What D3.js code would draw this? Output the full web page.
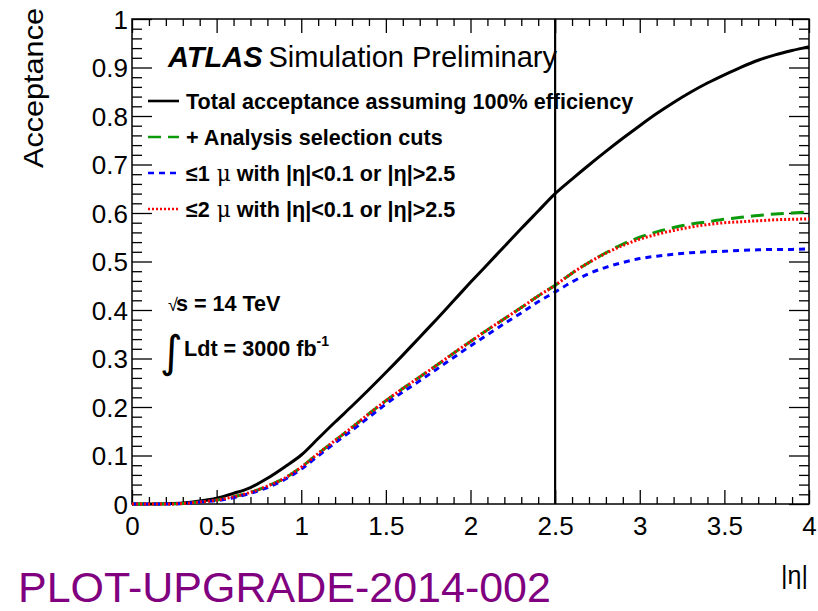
<!DOCTYPE html>
<html>
<head>
<meta charset="utf-8">
<script src="https://cdn.jsdelivr.net/npm/d3@7"></script>
<style>
  html, body { margin: 0; padding: 0; background: #fff; }
  svg { display: block; font-family: "Liberation Sans", Arial, Helvetica, sans-serif; }
</style>
</head>
<body>
<svg id="chart" width="818" height="611"></svg>
<script>
// |eta| sampling points (cut on the muon pseudorapidity)
const eta = d3.range(0, 41).map(i => +(i * 0.1).toFixed(1));

// Total acceptance assuming 100% efficiency
const totalAcc = [0, 0, 0.0005, 0.002, 0.006, 0.012, 0.022, 0.034, 0.053, 0.076,
  0.101, 0.135, 0.169, 0.202, 0.236, 0.271, 0.307, 0.344, 0.381, 0.419,
  0.457, 0.494, 0.531, 0.568, 0.604, 0.640, 0.670, 0.699, 0.727, 0.754,
  0.780, 0.805, 0.828, 0.849, 0.868, 0.885, 0.901, 0.915, 0.926, 0.935, 0.943];

// + Analysis selection cuts
const selCuts = [0, 0, 0, 0.001, 0.004, 0.008, 0.015, 0.024, 0.037, 0.053,
  0.076, 0.104, 0.131, 0.158, 0.186, 0.213, 0.238, 0.262, 0.286, 0.311,
  0.335, 0.359, 0.382, 0.405, 0.429, 0.451, 0.476, 0.498, 0.518, 0.536,
  0.550, 0.561, 0.570, 0.577, 0.582, 0.587, 0.591, 0.595, 0.598, 0.600, 0.602];

// <=1 mu with |eta|<0.1 or |eta|>2.5
const oneMu = [0, 0, 0, 0.001, 0.004, 0.007, 0.013, 0.022, 0.034, 0.050,
  0.072, 0.099, 0.126, 0.152, 0.179, 0.206, 0.231, 0.254, 0.278, 0.302,
  0.326, 0.349, 0.372, 0.394, 0.417, 0.437, 0.458, 0.475, 0.488, 0.498,
  0.506, 0.511, 0.515, 0.518, 0.520, 0.521, 0.523, 0.524, 0.525, 0.525, 0.526];

// <=2 mu with |eta|<0.1 or |eta|>2.5
const twoMu = [0, 0, 0, 0.001, 0.004, 0.008, 0.015, 0.024, 0.037, 0.053,
  0.076, 0.104, 0.131, 0.158, 0.186, 0.213, 0.238, 0.262, 0.286, 0.311,
  0.335, 0.359, 0.382, 0.405, 0.429, 0.451, 0.476, 0.498, 0.517, 0.533,
  0.546, 0.556, 0.564, 0.571, 0.576, 0.580, 0.582, 0.584, 0.586, 0.587, 0.588];

const xTickLabels = ["0", "0.5", "1", "1.5", "2", "2.5", "3", "3.5", "4"];
const yTickLabels = ["0", "0.1", "0.2", "0.3", "0.4", "0.5", "0.6", "0.7", "0.8", "0.9", "1"];
const etaCut = 2.5;

const series = [
  { name: "total", values: totalAcc, color: "#000000", dash: null, width: 3 },
  { name: "sel", values: selCuts, color: "#0b9a0b", dash: "13,7", width: 3 },
  { name: "one", values: oneMu, color: "#0000ff", dash: "6,5", width: 3 },
  { name: "two", values: twoMu, color: "#ff0000", dash: "2,2", width: 3 }
];

const svg = d3.select("#chart");
const frameL = 132, frameR = 809, frameT = 19, frameB = 504;

const x = d3.scaleLinear().domain([0, 4]).range([frameL, frameR]);
const y = d3.scaleLinear().domain([0, 1]).range([frameB, frameT]);

// Frame ticks (ROOT style: major + minor on all four sides, pointing inward)
const xMajor = xTickLabels.map(Number);
const xMinor = d3.range(0, 41).map(i => i * 0.1).filter(v => Math.abs(v * 2 - Math.round(v * 2)) > 1e-6);
const yMajor = yTickLabels.map(Number);
const yMinor = d3.range(0, 51).map(i => i * 0.02).filter(v => Math.abs(v * 10 - Math.round(v * 10)) > 1e-6);

const xMajLen = 14, xMinLen = 7, yMajLen = 20, yMinLen = 10;

const axBottom = svg.append("g").attr("transform", `translate(0,${frameB})`);
axBottom.call(d3.axisBottom(x).tickValues(xMajor).tickSizeInner(-xMajLen).tickSizeOuter(0).tickPadding(8)
  .tickFormat((d, i) => xTickLabels[i]));
axBottom.append("g").call(d3.axisBottom(x).tickValues(xMinor).tickSizeInner(-xMinLen).tickSizeOuter(0).tickFormat(""));

const axTop = svg.append("g").attr("transform", `translate(0,${frameT})`);
axTop.call(d3.axisTop(x).tickValues(xMajor).tickSizeInner(-xMajLen).tickSizeOuter(0).tickFormat(""));
axTop.append("g").call(d3.axisTop(x).tickValues(xMinor).tickSizeInner(-xMinLen).tickSizeOuter(0).tickFormat(""));

const axLeft = svg.append("g").attr("transform", `translate(${frameL},0)`);
axLeft.call(d3.axisLeft(y).tickValues(yMajor).tickSizeInner(-yMajLen).tickSizeOuter(0).tickPadding(4)
  .tickFormat((d, i) => yTickLabels[i]));
axLeft.append("g").call(d3.axisLeft(y).tickValues(yMinor).tickSizeInner(-yMinLen).tickSizeOuter(0).tickFormat(""));

const axRight = svg.append("g").attr("transform", `translate(${frameR},0)`);
axRight.call(d3.axisRight(y).tickValues(yMajor).tickSizeInner(-yMajLen).tickSizeOuter(0).tickFormat(""));
axRight.append("g").call(d3.axisRight(y).tickValues(yMinor).tickSizeInner(-yMinLen).tickSizeOuter(0).tickFormat(""));

svg.selectAll(".domain").remove();
svg.selectAll(".tick line").attr("stroke", "#000").attr("stroke-width", 1.3);
svg.selectAll(".tick text").attr("fill", "#000").attr("font-size", 26)
  .attr("font-family", "Liberation Sans, Arial, sans-serif");
axBottom.selectAll(".tick text").attr("dy", "0.9em");
axLeft.selectAll(".tick text").attr("dy", "0.36em");

// Frame box
svg.append("rect").attr("x", frameL).attr("y", frameT).attr("width", frameR - frameL).attr("height", frameB - frameT)
  .attr("fill", "none").attr("stroke", "#000").attr("stroke-width", 1.5);

// Curves
const line = d3.line().x((d, i) => x(eta[i])).y(d => y(d)).curve(d3.curveMonotoneX);
const curves = svg.append("g");
series.forEach(s => {
  curves.append("path").datum(s.values)
    .attr("d", line)
    .attr("fill", "none")
    .attr("stroke", s.color)
    .attr("stroke-width", s.width)
    .attr("stroke-dasharray", s.dash)
    .attr("stroke-linejoin", "round");
});

// Vertical marker at the |eta| cut
svg.append("line").attr("x1", x(etaCut)).attr("x2", x(etaCut)).attr("y1", y(0)).attr("y2", y(1))
  .attr("stroke", "#000").attr("stroke-width", 2.2);

// Axis titles
svg.append("text").attr("transform", `translate(43,8) rotate(-90)`)
  .attr("text-anchor", "end").attr("font-size", 28).attr("fill", "#000")
  .attr("textLength", 160).attr("lengthAdjust", "spacingAndGlyphs").text("Acceptance");
svg.append("text").attr("x", 808).attr("y", 584).attr("text-anchor", "end")
  .attr("font-size", 25).attr("fill", "#000").text("|η|");

// ATLAS label
const atlas = svg.append("text").attr("x", 168).attr("y", 67).attr("font-size", 29).attr("fill", "#000");
atlas.append("tspan").attr("font-weight", "bold").attr("font-style", "italic").text("ATLAS");
atlas.append("tspan").attr("dx", 6).text("Simulation Preliminary");

// Legend
const legendRows = [
  { s: series[0], label: "Total acceptance assuming 100% efficiency" },
  { s: series[1], label: "+ Analysis selection cuts" },
  { s: series[2], label: ["≤1", " μ", " with |η|<0.1 or |η|>2.5"] },
  { s: series[3], label: ["≤2", " μ", " with |η|<0.1 or |η|>2.5"] }
];
const legendY = [101, 137, 173, 209];
legendRows.forEach((r, i) => {
  const yy = legendY[i];
  svg.append("line").attr("x1", 148).attr("x2", 179).attr("y1", yy).attr("y2", yy)
    .attr("stroke", r.s.color).attr("stroke-width", 2.6)
    .attr("stroke-dasharray", r.s.dash);
  const t = svg.append("text").attr("x", 186).attr("y", yy + 7.5).attr("font-size", 21.6)
    .attr("font-weight", "bold").attr("fill", "#000");
  if (Array.isArray(r.label)) {
    t.append("tspan").text(r.label[0]);
    t.append("tspan").attr("font-weight", "normal").attr("font-family", "DejaVu Serif, serif").text(r.label[1]);
    t.append("tspan").text(r.label[2]);
  } else {
    t.text(r.label);
  }
});

// Energy and integrated luminosity
const energy = svg.append("text").attr("x", 168).attr("y", 311).attr("font-size", 21.6)
  .attr("font-weight", "bold").attr("fill", "#000");
energy.append("tspan").attr("font-weight", "normal").attr("font-size", 18).text("√");
energy.append("tspan").attr("dx", -2).text("s = 14 TeV");

svg.append("text").attr("x", 160).attr("y", 367).attr("font-size", 44).attr("fill", "#000")
  .attr("font-family", "DejaVu Sans, sans-serif").text("∫");

const lumi = svg.append("text").attr("x", 184).attr("y", 356).attr("font-size", 21.6)
  .attr("font-weight", "bold").attr("fill", "#000");
lumi.append("tspan").text("Ldt = 3000 fb");
lumi.append("tspan").attr("font-size", 14).attr("dy", -10).text("-1");

// Reference tag
svg.append("text").attr("x", 18).attr("y", 602).attr("font-size", 43).attr("fill", "#800080")
  .text("PLOT-UPGRADE-2014-002");
</script>
</body>
</html>
